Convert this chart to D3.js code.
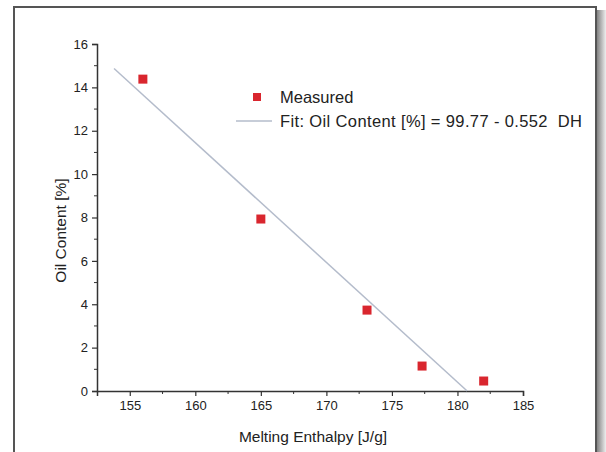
<!DOCTYPE html>
<html>
<head>
<meta charset="utf-8">
<script src="https://cdn.jsdelivr.net/npm/d3@7"></script>
<style>
body { margin: 0; background: #fff; }
svg text { font-family: "Liberation Sans", Arial, sans-serif; fill: #222; }
</style>
</head>
<body>
<svg id="chart" width="606" height="452"></svg>
<script>
// measured points
var enthalpy = [156.0, 165.0, 173.1, 177.3, 182.0];
var oilContent = [14.38, 7.93, 3.73, 1.15, 0.46];

// linear fit: oil = 99.77 - 0.552 * dH
var fitIntercept = 99.77;
var fitSlope = -0.552;
var fitRange = [153.8, 180.74];

var xTicks = [155, 160, 165, 170, 175, 180, 185];
var yTicks = [0, 2, 4, 6, 8, 10, 12, 14, 16];

var svg = d3.select("#chart");

// panel shadow on the right
var grad = svg.append("defs").append("linearGradient").attr("id", "shadow");
grad.append("stop").attr("offset", "0%").attr("stop-color", "#777");
grad.append("stop").attr("offset", "100%").attr("stop-color", "#eee");
svg.append("rect").attr("x", 596).attr("y", 10).attr("width", 10).attr("height", 442).attr("fill", "url(#shadow)");

svg.append("rect")
  .attr("x", 14).attr("y", 7).attr("width", 582).attr("height", 460)
  .attr("fill", "#fff").attr("stroke", "#555").attr("stroke-width", 2);

var x = d3.scaleLinear().domain([152.5, 185]).range([97, 523]);
var y = d3.scaleLinear().domain([0, 16]).range([391, 44]);

var axisColor = "#333";

// x axis
var gx = svg.append("g").attr("transform", "translate(0," + y(0) + ")");
gx.call(d3.axisBottom(x).tickValues(xTicks).tickSize(5).tickPadding(5).tickFormat(d3.format("d")));
gx.append("g").selectAll("line")
  .data(d3.range(157.5, 185, 5))
  .enter().append("line")
  .attr("x1", d => x(d)).attr("x2", d => x(d))
  .attr("y1", 0).attr("y2", 3)
  .attr("stroke", axisColor);

// y axis
var gy = svg.append("g").attr("transform", "translate(" + x(152.5) + ",0)");
gy.call(d3.axisLeft(y).tickValues(yTicks).tickSize(5).tickPadding(4).tickFormat(d3.format("d")));
gy.append("g").selectAll("line")
  .data(d3.range(1, 16, 2))
  .enter().append("line")
  .attr("x1", 0).attr("x2", -3)
  .attr("y1", d => y(d)).attr("y2", d => y(d))
  .attr("stroke", axisColor);

[gx, gy].forEach(function(g) {
  g.select(".domain").attr("stroke", axisColor).attr("stroke-width", 1.5);
  g.selectAll(".tick line").attr("stroke", axisColor).attr("stroke-width", 1.2);
  g.selectAll(".tick text").attr("font-size", 13).attr("fill", "#333")
    .attr("font-family", "Liberation Sans, Arial, sans-serif");
});

svg.append("text")
  .attr("x", 313).attr("y", 442)
  .attr("text-anchor", "middle")
  .attr("font-size", 15.5)
  .text("Melting Enthalpy [J/g]");

svg.append("text")
  .attr("transform", "translate(66," + y(7.4) + ") rotate(-90)")
  .attr("text-anchor", "middle")
  .attr("font-size", 15.5)
  .text("Oil Content [%]");

// fit line
svg.append("path")
  .datum(fitRange)
  .attr("fill", "none")
  .attr("stroke", "#b4bccb")
  .attr("stroke-width", 1.5)
  .attr("d", d3.line()
    .x(d => x(d))
    .y(d => y(fitIntercept + fitSlope * d)));

// measured points
var size = 9;
svg.append("g").selectAll("rect")
  .data(enthalpy)
  .enter().append("rect")
  .attr("x", (d, i) => x(d) - size / 2)
  .attr("y", (d, i) => y(oilContent[i]) - size / 2)
  .attr("width", size).attr("height", size)
  .attr("fill", "#d9262e");

// legend
var legend = svg.append("g");
legend.append("rect")
  .attr("x", 253).attr("y", 93).attr("width", 8).attr("height", 8)
  .attr("fill", "#d9262e");
legend.append("text")
  .attr("x", 280).attr("y", 103)
  .attr("font-size", 16.5)
  .text("Measured");
legend.append("line")
  .attr("x1", 236).attr("x2", 272).attr("y1", 121).attr("y2", 121)
  .attr("stroke", "#b4bccb").attr("stroke-width", 1.5);
legend.append("text")
  .attr("x", 280).attr("y", 127)
  .attr("font-size", 16.5)
  .attr("textLength", 302)
  .attr("lengthAdjust", "spacing")
  .text("Fit: Oil Content [%] = 99.77 - 0.552  DH")
  .attr("xml:space", "preserve")
  .style("white-space", "pre");
</script>
</body>
</html>
